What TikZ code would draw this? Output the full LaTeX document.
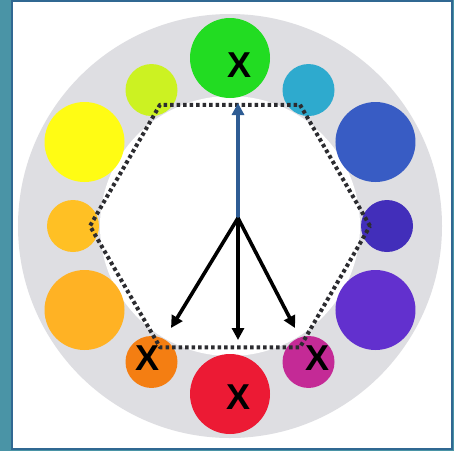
\documentclass[tikz,border=0pt]{standalone}
\usepackage{fontspec}
\setsansfont{Liberation Sans}
\usepackage{xcolor}
\usetikzlibrary{arrows.meta,positioning}

\definecolor{frameteal}{RGB}{74,148,166}
\definecolor{frameline}{RGB}{48,104,146}
\definecolor{ringgray}{RGB}{222,222,226}
\definecolor{cgreen}{RGB}{34,220,34}
\definecolor{cyellowgreen}{RGB}{204,242,34}
\definecolor{cyellow}{RGB}{255,252,20}
\definecolor{camber}{RGB}{255,192,36}
\definecolor{corangeyellow}{RGB}{255,178,36}
\definecolor{corange}{RGB}{244,126,18}
\definecolor{cred}{RGB}{236,26,52}
\definecolor{cmagenta}{RGB}{196,42,150}
\definecolor{cviolet}{RGB}{98,48,206}
\definecolor{cindigo}{RGB}{66,46,186}
\definecolor{cblue}{RGB}{56,92,196}
\definecolor{ccyan}{RGB}{46,170,206}
\definecolor{arrowblue}{RGB}{46,92,148}
\definecolor{dotgray}{RGB}{44,44,48}

\begin{document}
\begin{tikzpicture}[
  x=1pt, y=1pt,
  big/.style={circle, inner sep=0pt, minimum size=80pt},
  small/.style={circle, inner sep=0pt, minimum size=52pt},
  xmark/.style={inner sep=0pt, font=\fontsize{36}{36}\selectfont\sffamily\bfseries},
  hexline/.style={draw=dotgray, line width=4pt, dash pattern=on 3.5pt off 3pt, line join=round},
  arr/.style={-{Triangle[length=12pt,width=12pt]}, line width=3.6pt}
]
% frame and ring
\useasboundingbox (-230,-225) rectangle (224,226);
\fill[frameteal] (-230,-225) rectangle (224,226);
\filldraw[fill=white, draw=frameline, line width=2.5pt] (-218,-223) rectangle (222,225);
\fill[ringgray] (0,0) circle (212);
\fill[white] (0,0) circle (130);

% colour circles
\node[big, fill=cgreen] (gr) at (90:168) {};
\node[small, fill=cyellowgreen] (yg) at (120:157) {};
\node[big, fill=cyellow] (ye) at (150:168) {};
\node[small, fill=camber] (am) at (180:157) {};
\node[big, fill=corangeyellow] (oy) at (210:168) {};
\node[small, fill=corange] (or) at (240:157) {};
\node[big, fill=cred] (re) at (270:168) {};
\node[small, fill=cmagenta] (ma) at (300:157) {};
\node[big, fill=cviolet] (vi) at (330:168) {};
\node[small, fill=cindigo] (in) at (0:157) {};
\node[big, fill=cblue] (bl) at (30:168) {};
\node[small, fill=ccyan] (cy) at (60:157) {};

% hexagon
\draw[hexline] (0:140) -- (60:140) -- (120:140) -- (180:140) -- (240:140) -- (300:140) -- cycle;

% marks
\node[xmark] (xgr) at ([shift={(10,-7)}]gr.center) {X};
\node[xmark] (xre) at ([shift={(9,-3)}]re.center) {X};
\node[xmark] (xor) at ([shift={(-4,4)}]or.center) {X};
\node[xmark] (xma) at ([shift={(9,4)}]ma.center) {X};

% arrows
\coordinate (hub) at (8,8);
\coordinate (tipup) at (8,123);
\coordinate (tipdown) at (8,-114);
\coordinate (tipleft) at (-59,-102);
\coordinate (tipright) at (65,-102);
\draw[arr, arrowblue] (hub) -- (tipup);
\draw[arr] (hub) -- (tipleft);
\draw[arr] (hub) -- (tipdown);
\draw[arr] (hub) -- (tipright);
\end{tikzpicture}
\end{document}
